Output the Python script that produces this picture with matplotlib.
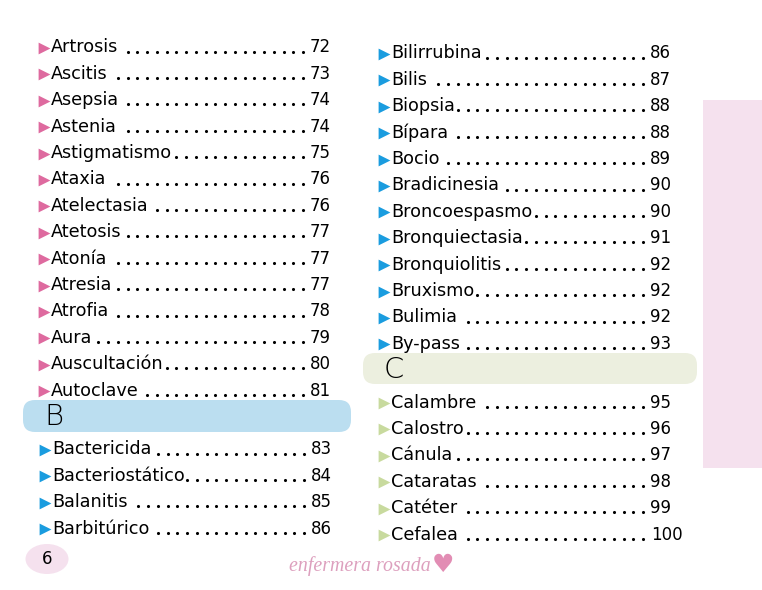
import matplotlib
matplotlib.use('Agg')
import matplotlib.pyplot as plt
from matplotlib.patches import FancyBboxPatch, Ellipse, Rectangle

terms_a = ['Artrosis', 'Ascitis', 'Asepsia', 'Astenia', 'Astigmatismo', 'Ataxia', 'Atelectasia',
           'Atetosis', 'Atonía', 'Atresia', 'Atrofia', 'Aura', 'Auscultación', 'Autoclave']
pages_a = [72, 73, 74, 74, 75, 76, 76, 77, 77, 77, 78, 79, 80, 81]
terms_b1 = ['Bactericida', 'Bacteriostático', 'Balanitis', 'Barbitúrico']
pages_b1 = [83, 84, 85, 86]
terms_b2 = ['Bilirrubina', 'Bilis', 'Biopsia', 'Bípara', 'Bocio', 'Bradicinesia', 'Broncoespasmo',
            'Bronquiectasia', 'Bronquiolitis', 'Bruxismo', 'Bulimia', 'By-pass']
pages_b2 = [86, 87, 88, 88, 89, 90, 90, 91, 92, 92, 92, 93]
terms_c = ['Calambre', 'Calostro', 'Cánula', 'Cataratas', 'Catéter', 'Cefalea']
pages_c = [95, 96, 97, 98, 99, 100]

PINK = '#DE6A9F'
BLUE = '#1A9CDF'
GREEN = '#C8DA9E'
FONT = 'DejaVu Sans'
FS = 12.7

fig = plt.figure(figsize=(7.62, 5.90), dpi=100)
ax = fig.add_axes([0, 0, 1, 1])
ax.set_xlim(0, 762)
ax.set_ylim(590, 0)
ax.axis('off')


def draw_block(terms, pages, x, y0, color):
    renderer = fig.canvas.get_renderer()
    inv = ax.transData.inverted()
    for i, (term, page) in enumerate(zip(terms, pages)):
        y = y0 + i * 26.4
        ax.scatter([x - 7.5], [y + 1], marker='>', s=72, color=color, linewidths=0)
        t = ax.text(x, y + 5.5, term, fontsize=FS, family=FONT, color='black', va='baseline', ha='left')
        ax.text(x + 259 if page < 100 else x + 260, y + 5.5, str(page), fontsize=12, family=FONT,
                color='black', va='baseline', ha='left')
        end = inv.transform(t.get_window_extent(renderer).get_points())[1][0]
        # dot leader hangs off the right end
        xs = []
        dot = x + 252
        while dot > end + 2:
            xs.append(dot)
            dot -= 9.75
        ax.scatter(xs, [y + 4.5] * len(xs), s=5, color='black', linewidths=0)


def section_bar(x0, x1, y0, y1, color, letter):
    ax.add_patch(FancyBboxPatch((x0 + 12, y0 + 12), x1 - x0 - 24, y1 - y0 - 24,
                                boxstyle='round,pad=12,rounding_size=12', fc=color, ec='none'))
    ax.text(x0 + 31, (y0 + y1) / 2 + 1, letter, fontsize=21, family='Liberation Sans Narrow',
            color='black', va='center', ha='center', fontweight='light')


ax.add_patch(Rectangle((703, 100), 59, 368, fc='#F5E1EE', ec='none'))
section_bar(23, 351, 400, 432, '#BBDEF0', 'B')
section_bar(363, 697, 353, 384, '#ECEFDF', 'C')

draw_block(terms_a, pages_a, 51, 47, PINK)
draw_block(terms_b1, pages_b1, 52, 449, BLUE)
draw_block(terms_b2, pages_b2, 391, 53, BLUE)
draw_block(terms_c, pages_c, 391, 402, GREEN)

ax.add_patch(Ellipse((47, 559), 43, 30, fc='#F5E1EE', ec='none'))
ax.text(47, 559, '6', fontsize=12, family=FONT, va='center', ha='center')

ax.text(360, 566, 'enfermera rosada', fontsize=14.3, family='Liberation Serif', style='italic',
        color='#DDA0BE', va='center', ha='center')
ax.text(443, 565, '♥', fontsize=18, family='DejaVu Sans', color='#E28DB4', va='center', ha='center')

fig.savefig('out.png', dpi=100)
